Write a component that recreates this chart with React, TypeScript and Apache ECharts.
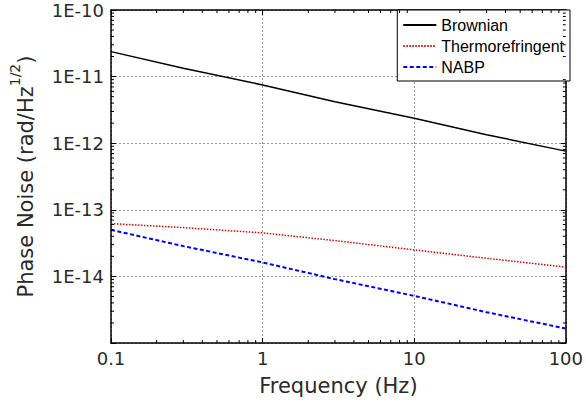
import React, { useEffect, useRef } from "react";
import * as echarts from "echarts";

const freqs = [0.1, 0.3, 1, 3, 10, 30, 100];
const brownian = [2.37e-11, 1.33e-11, 7.5e-12, 4.2e-12, 2.37e-12, 1.34e-12, 7.6e-13];
const thermo = [6.2e-14, 5.4e-14, 4.5e-14, 3.45e-14, 2.5e-14, 1.87e-14, 1.38e-14];
const nabp = [5.0e-14, 2.85e-14, 1.62e-14, 9.1e-15, 5.1e-15, 2.9e-15, 1.65e-15];

const xDecades = [0.1, 1, 10];
const yDecades = [1e-15, 1e-14, 1e-13, 1e-12, 1e-11];
const minorMult = [2, 3, 4, 5, 6, 7, 8, 9];

const tickFont = "'DejaVu Sans', sans-serif";
const txtColor = "#2a2a2a";

export default function App() {
  const ref = useRef<HTMLDivElement>(null);
  useEffect(() => {
    if (!ref.current) return;
    const chart = echarts.init(ref.current, null, { renderer: "svg" });
    const pair = (ys: number[]) => freqs.map((f, i) => [f, ys[i]]);
    const minorData: number[][] = [];
    xDecades.forEach((d) => minorMult.forEach((m) => minorData.push([d * m, 1e-12, 0])));
    yDecades.forEach((d) => minorMult.forEach((m) => minorData.push([1, d * m, 1])));

    const axisLine = { show: true, lineStyle: { color: "#000", width: 1.5 } };
    const splitLine = { show: true, lineStyle: { color: "#999", type: [2, 2], width: 1 } };

    chart.setOption({
      animation: false,
      grid: { left: 110, right: 16, top: 10, bottom: 66, containLabel: false },
      legend: {
        data: ["Brownian", "Thermorefringent", "NABP"],
        orient: "vertical",
        right: 16,
        top: 10,
        itemWidth: 33,
        itemHeight: 14,
        itemGap: 5,
        padding: [7, 6, 6, 5],
        backgroundColor: "#fff",
        borderColor: "#000",
        borderWidth: 1,
        borderRadius: 0,
        itemStyle: { opacity: 0 },
        textStyle: { fontFamily: "'Liberation Sans', Arial, sans-serif", fontSize: 16, color: "#000" },
      },
      xAxis: [
        {
          type: "log",
          logBase: 10,
          min: 0.1,
          max: 100,
          name: "Frequency (Hz)",
          nameLocation: "middle",
          nameGap: 32,
          nameTextStyle: { fontFamily: tickFont, fontSize: 21, color: txtColor },
          axisLine,
          axisTick: { show: true, inside: true, length: 5, lineStyle: { color: "#000" } },
          splitLine,
          axisLabel: {
            fontFamily: tickFont,
            fontSize: 18,
            color: txtColor,
            margin: 6,
            formatter: (v: number) => (v < 1 ? String(Math.round(v * 10) / 10) : String(Math.round(v))),
          },
        },
        {
          type: "log",
          logBase: 10,
          min: 0.1,
          max: 100,
          position: "top",
          axisLine,
          axisTick: { show: true, inside: true, length: 5, lineStyle: { color: "#000" } },
          splitLine: { show: false },
          axisLabel: { show: false },
        },
      ],
      yAxis: [
        {
          type: "log",
          logBase: 10,
          min: 1e-15,
          max: 1e-10,
          name: "{a|Phase Noise (rad/Hz}{b|1/2}{a|)}",
          nameLocation: "middle",
          nameGap: 75,
          nameTextStyle: {
            rich: {
              a: { fontFamily: tickFont, fontSize: 21, color: txtColor, lineHeight: 28, verticalAlign: "bottom" },
              b: { fontFamily: tickFont, fontSize: 14, color: txtColor, lineHeight: 28, verticalAlign: "top" },
            },
          },
          axisLine,
          axisTick: { show: true, inside: true, length: 5, lineStyle: { color: "#000" } },
          splitLine,
          axisLabel: {
            fontFamily: tickFont,
            fontSize: 18,
            color: txtColor,
            margin: 7,
            formatter: (v: number) => {
              const e = Math.round(Math.log10(v));
              return e <= -15 ? "" : "1E" + e;
            },
          },
        },
        {
          type: "log",
          logBase: 10,
          min: 1e-15,
          max: 1e-10,
          position: "right",
          axisLine,
          axisTick: { show: true, inside: true, length: 5, lineStyle: { color: "#000" } },
          splitLine: { show: false },
          axisLabel: { show: false },
        },
      ],
      series: [
        {
          name: "Brownian",
          type: "line",
          data: pair(brownian),
          symbol: "none",
          lineStyle: { color: "#000", width: 1.5, type: "solid" },
          itemStyle: { color: "#000" },
        },
        {
          name: "Thermorefringent",
          type: "line",
          data: pair(thermo),
          symbol: "none",
          lineStyle: { color: "#e00000", width: 1.5, type: [1.5, 1.5] },
          itemStyle: { color: "#e00000" },
        },
        {
          name: "NABP",
          type: "line",
          data: pair(nabp),
          symbol: "none",
          lineStyle: { color: "#0000ff", width: 2, type: [4, 2.5] },
          itemStyle: { color: "#0000ff" },
        },
        {
          name: "minorTicks",
          type: "custom",
          silent: true,
          clip: false,
          z: 5,
          data: minorData,
          renderItem: (params: any, api: any) => {
            const cs = params.coordSys;
            const kind = api.value(2);
            const p = api.coord([api.value(0), api.value(1)]);
            const style = { stroke: "#000", lineWidth: 1 };
            if (kind === 0) {
              const x = p[0];
              return {
                type: "group",
                children: [
                  { type: "line", shape: { x1: x, y1: cs.y + cs.height, x2: x, y2: cs.y + cs.height - 3 }, style },
                  { type: "line", shape: { x1: x, y1: cs.y, x2: x, y2: cs.y + 3 }, style },
                ],
              };
            }
            const y = p[1];
            return {
              type: "group",
              children: [
                { type: "line", shape: { x1: cs.x, y1: y, x2: cs.x + 3, y2: y }, style },
                { type: "line", shape: { x1: cs.x + cs.width, y1: y, x2: cs.x + cs.width - 3, y2: y }, style },
              ],
            };
          },
        },
      ],
    });
    return () => chart.dispose();
  }, []);
  return <div ref={ref} style={{ width: 586, height: 409, position: "absolute", left: 0, top: 0, background: "#fff" }} />;
}
